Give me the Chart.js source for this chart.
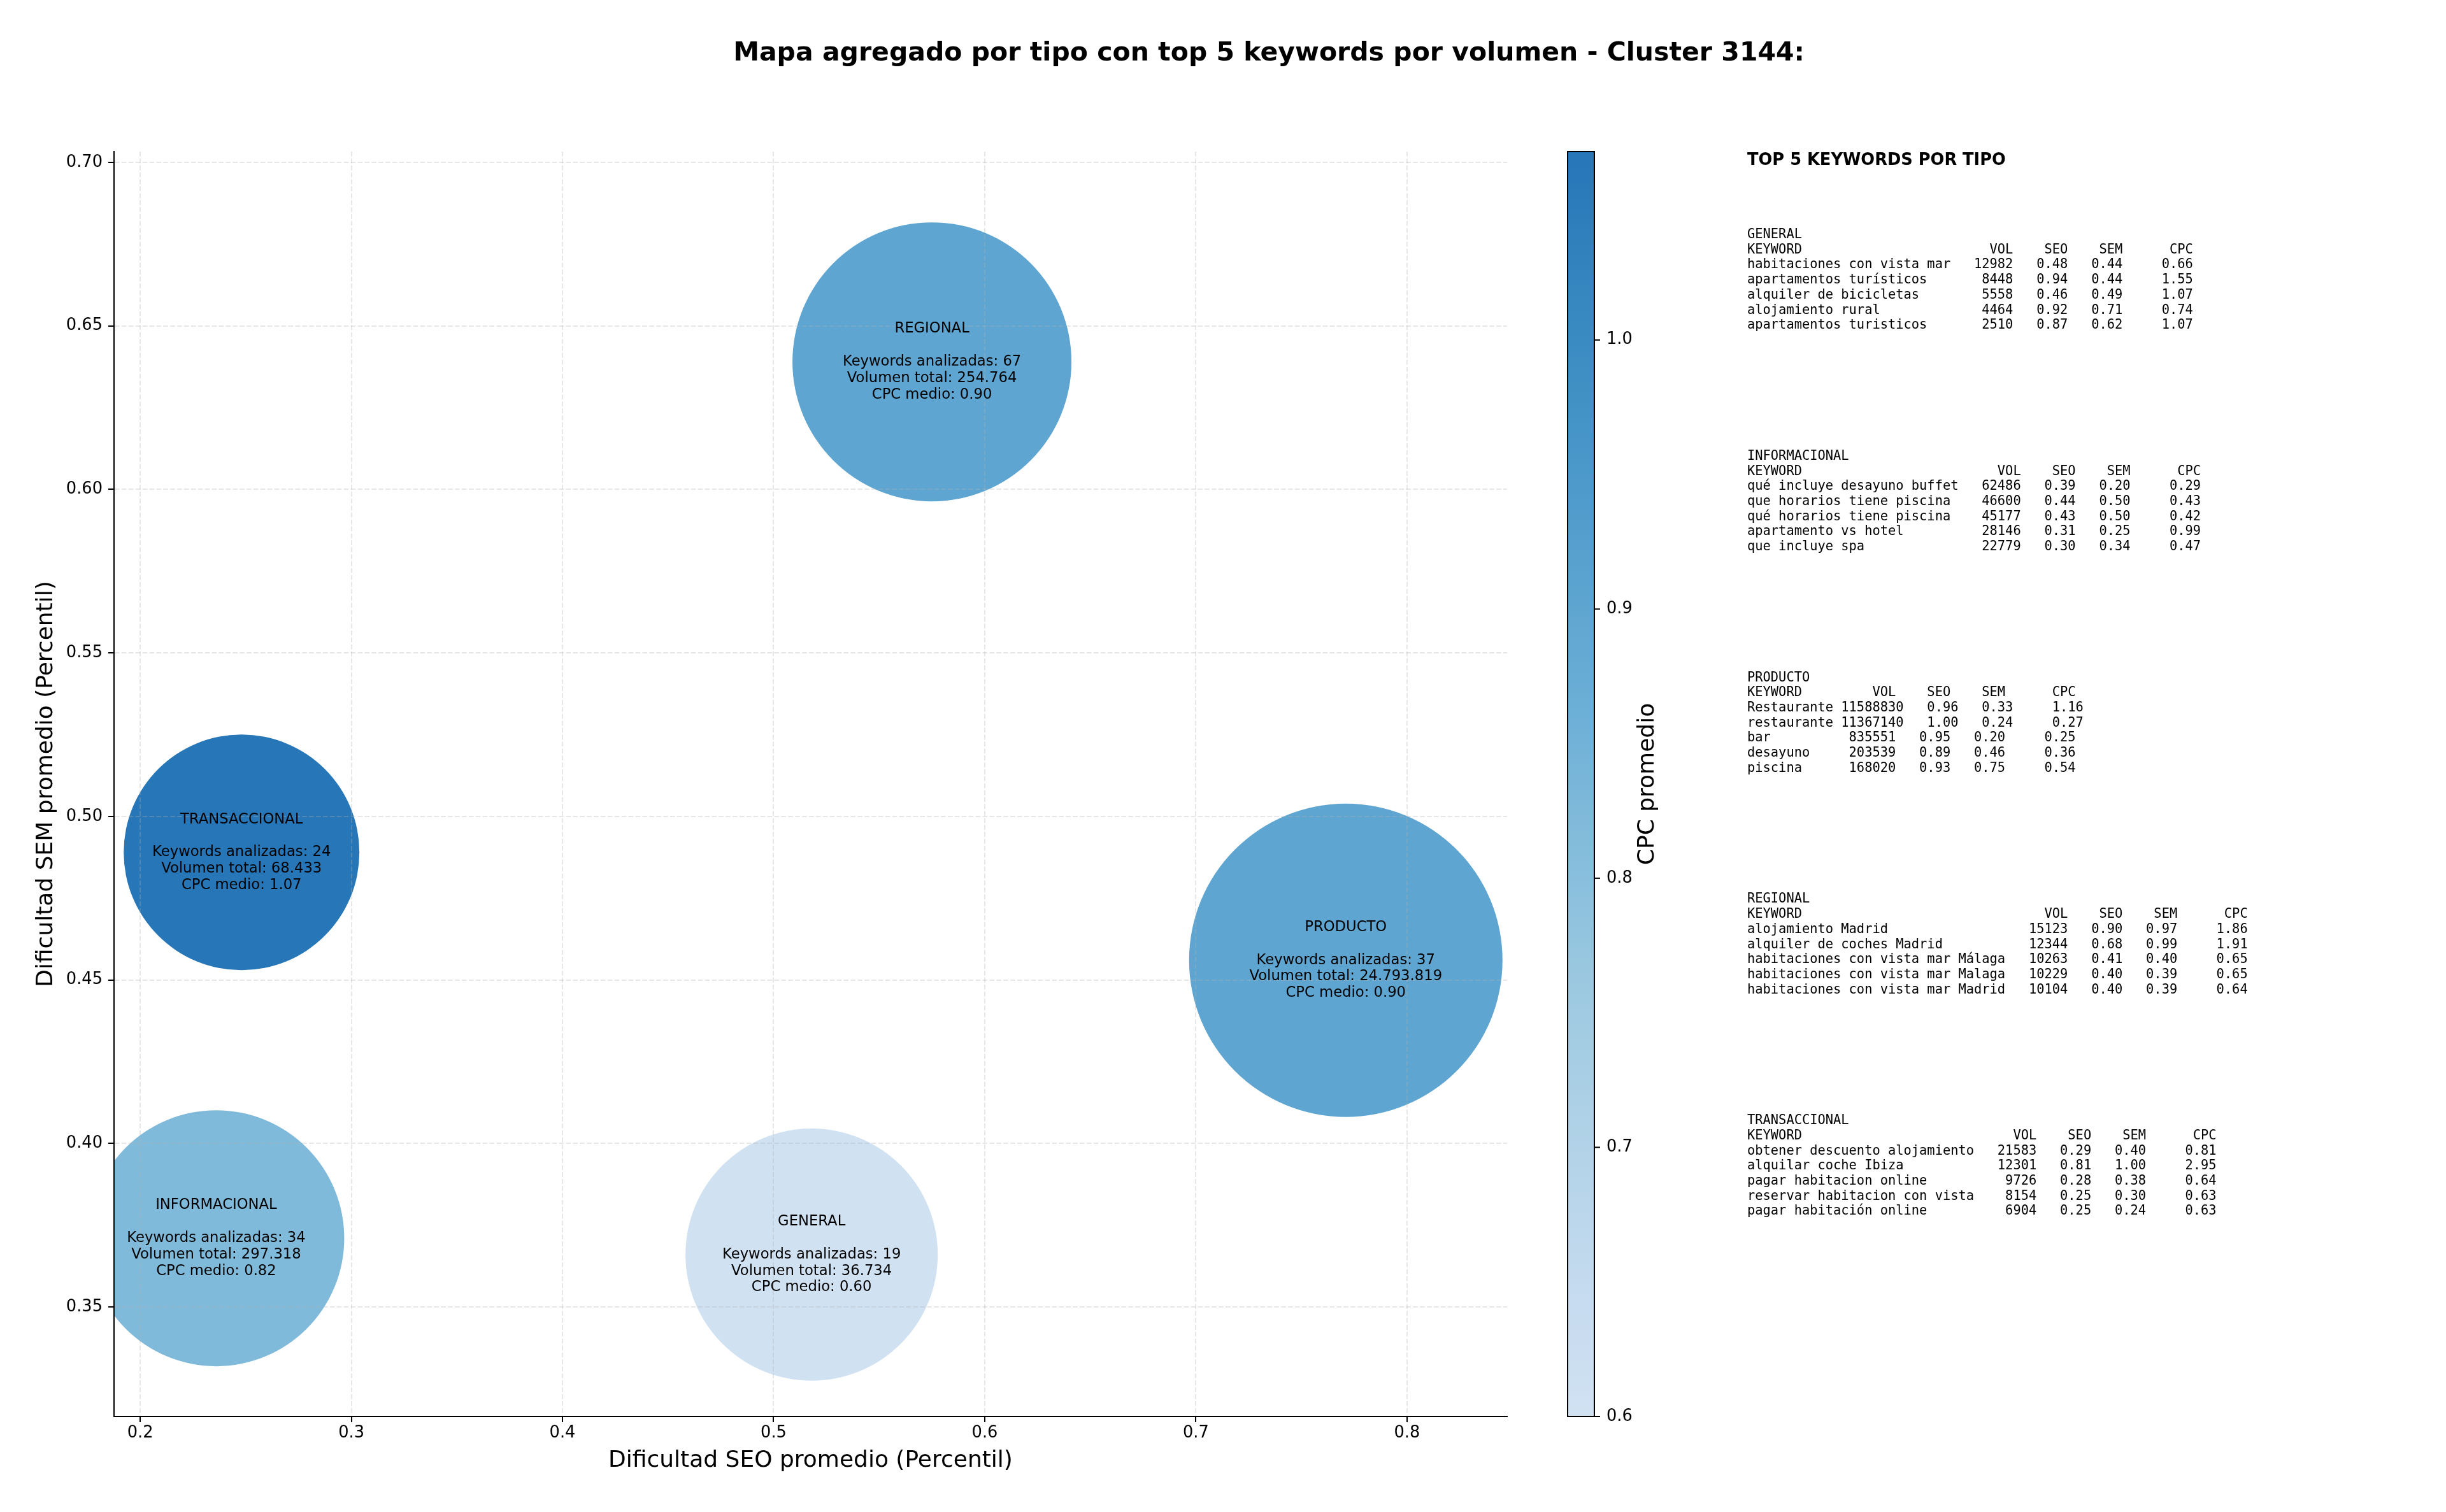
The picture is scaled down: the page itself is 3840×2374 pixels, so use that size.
<!DOCTYPE html>
<html>
<head>
<meta charset="utf-8">
<script src="https://cdn.jsdelivr.net/npm/chart.js@4.4.1/dist/chart.umd.min.js"></script>
<style>
  html, body { margin: 0; padding: 0; background: #fff; }
  #chart { display: block; }
</style>
</head>
<body>
<canvas id="chart" width="3840" height="2374"></canvas>
<script>
// aggregated values per keyword type
const types = ['GENERAL', 'INFORMACIONAL', 'PRODUCTO', 'REGIONAL', 'TRANSACCIONAL'];
const seoAvg = [0.518, 0.236, 0.771, 0.575, 0.248];
const semAvg = [0.366, 0.371, 0.456, 0.639, 0.489];
const cpcAvg = [0.60, 0.82, 0.90, 0.90, 1.07];
const keywordCount = [19, 34, 37, 67, 24];
const totalVolume = [36734, 297318, 24793819, 254764, 68433];
const bubbleSize = [198, 201, 246, 219, 185];

const xTicks = [0.2, 0.3, 0.4, 0.5, 0.6, 0.7, 0.8];
const yTicks = [0.35, 0.40, 0.45, 0.50, 0.55, 0.60, 0.65, 0.70];
const cbarTicks = [0.6, 0.7, 0.8, 0.9, 1.0];

// top 5 keywords: keyword, volume, seo, sem, cpc
const topGeneral = [
  ['habitaciones con vista mar', 12982, 0.48, 0.44, 0.66],
  ['apartamentos turísticos', 8448, 0.94, 0.44, 1.55],
  ['alquiler de bicicletas', 5558, 0.46, 0.49, 1.07],
  ['alojamiento rural', 4464, 0.92, 0.71, 0.74],
  ['apartamentos turisticos', 2510, 0.87, 0.62, 1.07]
];
const topInformacional = [
  ['qué incluye desayuno buffet', 62486, 0.39, 0.20, 0.29],
  ['que horarios tiene piscina', 46600, 0.44, 0.50, 0.43],
  ['qué horarios tiene piscina', 45177, 0.43, 0.50, 0.42],
  ['apartamento vs hotel', 28146, 0.31, 0.25, 0.99],
  ['que incluye spa', 22779, 0.30, 0.34, 0.47]
];
const topProducto = [
  ['Restaurante', 11588830, 0.96, 0.33, 1.16],
  ['restaurante', 11367140, 1.00, 0.24, 0.27],
  ['bar', 835551, 0.95, 0.20, 0.25],
  ['desayuno', 203539, 0.89, 0.46, 0.36],
  ['piscina', 168020, 0.93, 0.75, 0.54]
];
const topRegional = [
  ['alojamiento Madrid', 15123, 0.90, 0.97, 1.86],
  ['alquiler de coches Madrid', 12344, 0.68, 0.99, 1.91],
  ['habitaciones con vista mar Málaga', 10263, 0.41, 0.40, 0.65],
  ['habitaciones con vista mar Malaga', 10229, 0.40, 0.39, 0.65],
  ['habitaciones con vista mar Madrid', 10104, 0.40, 0.39, 0.64]
];
const topTransaccional = [
  ['obtener descuento alojamiento', 21583, 0.29, 0.40, 0.81],
  ['alquilar coche Ibiza', 12301, 0.81, 1.00, 2.95],
  ['pagar habitacion online', 9726, 0.28, 0.38, 0.64],
  ['reservar habitacion con vista', 8154, 0.25, 0.30, 0.63],
  ['pagar habitación online', 6904, 0.25, 0.24, 0.63]
];
const tableBlocks = [
  ['GENERAL', topGeneral],
  ['INFORMACIONAL', topInformacional],
  ['PRODUCTO', topProducto],
  ['REGIONAL', topRegional],
  ['TRANSACCIONAL', topTransaccional]
];

// matplotlib "Blues", truncated
const bluesStops = [
  [247, 251, 255], [222, 235, 247], [198, 219, 239], [158, 202, 225], [107, 174, 214],
  [66, 146, 198], [33, 113, 181], [8, 81, 156], [8, 48, 107]
];
function blues(t) {
  const p = Math.max(0, Math.min(1, t)) * 8;
  const i = Math.min(7, Math.floor(p));
  const f = p - i;
  const a = bluesStops[i], b = bluesStops[i + 1];
  const c = a.map((v, k) => Math.round(v + (b[k] - v) * f));
  return `rgb(${c[0]},${c[1]},${c[2]})`;
}
const cpcMin = Math.min(...cpcAvg);
const cpcMax = Math.max(...cpcAvg);
function cpcColor(v) {
  const n = (v - cpcMin) / (cpcMax - cpcMin);
  return blues(0.2 + n * 0.53);
}

function fmtThousands(v) {
  return String(v).replace(/\B(?=(\d{3})+(?!\d))/g, '.');
}

function tableLines(name, rows) {
  const w = Math.max(...rows.map(r => r[0].length));
  const lines = [name];
  lines.push('KEYWORD'.padEnd(w) + ' ' + 'VOL'.padStart(7) + 'SEO'.padStart(7) + 'SEM'.padStart(7) + 'CPC'.padStart(9));
  rows.forEach(r => {
    lines.push(r[0].padEnd(w) + ' ' + String(r[1]).padStart(7) + r[2].toFixed(2).padStart(7) +
      r[3].toFixed(2).padStart(7) + r[4].toFixed(2).padStart(9));
  });
  return lines;
}

const FONT = '"DejaVu Sans", sans-serif';
const MONO = '"DejaVu Sans Mono", monospace';

const extras = {
  id: 'extras',
  beforeDraw(chart) {
    const ctx = chart.ctx;
    ctx.save();
    ctx.fillStyle = '#fff';
    ctx.fillRect(0, 0, chart.width, chart.height);
    ctx.restore();
  },
  afterDraw(chart) {
    const ctx = chart.ctx;
    const {x, y} = chart.scales;
    const area = chart.chartArea;
    ctx.save();

    // figure title
    ctx.fillStyle = '#000';
    ctx.textAlign = 'center';
    ctx.textBaseline = 'middle';
    ctx.font = `bold 41px ${FONT}`;
    ctx.fillText('Mapa agregado por tipo con top 5 keywords por volumen - Cluster 3144:', 1992, 84);

    // bubble labels
    ctx.font = `22.7px ${FONT}`;
    types.forEach((t, i) => {
      const px = x.getPixelForValue(seoAvg[i]);
      const py = y.getPixelForValue(semAvg[i]);
      const lines = [t, '', `Keywords analizadas: ${keywordCount[i]}`,
        `Volumen total: ${fmtThousands(totalVolume[i])}`, `CPC medio: ${cpcAvg[i].toFixed(2)}`];
      lines.forEach((l, k) => ctx.fillText(l, px, py + (k - 2) * 25.8));
    });

    // colorbar
    const cbL = 2461, cbR = 2503, cbT = area.top, cbB = area.bottom;
    const grad = ctx.createLinearGradient(0, cbB, 0, cbT);
    for (let s = 0; s <= 40; s++) {
      grad.addColorStop(s / 40, cpcColor(cpcMin + (cpcMax - cpcMin) * s / 40));
    }
    ctx.fillStyle = grad;
    ctx.fillRect(cbL, cbT, cbR - cbL, cbB - cbT);
    ctx.strokeStyle = '#000';
    ctx.lineWidth = 2;
    ctx.strokeRect(cbL, cbT, cbR - cbL, cbB - cbT);
    ctx.fillStyle = '#000';
    ctx.textAlign = 'left';
    ctx.font = `25.7px ${FONT}`;
    cbarTicks.forEach(v => {
      const ty = cbB - (v - cpcMin) / (cpcMax - cpcMin) * (cbB - cbT);
      ctx.beginPath();
      ctx.moveTo(cbR, ty);
      ctx.lineTo(cbR + 9, ty);
      ctx.stroke();
      ctx.fillText(v.toFixed(1), cbR + 19, ty);
    });
    ctx.save();
    ctx.translate(2587, (cbT + cbB) / 2);
    ctx.rotate(-Math.PI / 2);
    ctx.textAlign = 'center';
    ctx.font = `36px ${FONT}`;
    ctx.fillText('CPC promedio', 0, 0);
    ctx.restore();

    // keyword tables
    ctx.textAlign = 'left';
    ctx.textBaseline = 'alphabetic';
    ctx.font = `bold 25.7px ${FONT}`;
    ctx.fillText('TOP 5 KEYWORDS POR TIPO', 2743, 259);
    ctx.font = `20.4px ${MONO}`;
    tableBlocks.forEach(([name, rows], b) => {
      tableLines(name, rows).forEach((l, k) => {
        ctx.fillText(l, 2743, 374 + b * 347.8 + k * 23.7);
      });
    });

    ctx.restore();
  }
};

Chart.defaults.font.family = FONT;
Chart.defaults.color = '#000';

const axisCommon = {
  type: 'linear',
  grid: {
    color: 'rgba(176,176,176,0.3)',
    lineWidth: 2,
    tickLength: 9,
    tickColor: '#000',
    tickWidth: 2,
    z: 1
  },
  border: { display: true, color: '#000', width: 2, dash: [7.6, 3.3], z: 2 }
};

new Chart(document.getElementById('chart'), {
  type: 'bubble',
  data: {
    datasets: [{
      data: types.map((t, i) => ({x: seoAvg[i], y: semAvg[i], r: bubbleSize[i]})),
      backgroundColor: cpcAvg.map(cpcColor),
      borderWidth: 0,
      clip: 0
    }]
  },
  options: {
    responsive: false,
    animation: false,
    events: [],
    layout: { autoPadding: false, padding: { left: 0, right: 1474, top: 238, bottom: 0 } },
    plugins: { legend: { display: false }, tooltip: { enabled: false } },
    scales: {
      x: {
        ...axisCommon,
        min: 0.1876,
        max: 0.8474,
        afterFit: s => { s.height = 150; },
        afterBuildTicks: s => { s.ticks = xTicks.map(v => ({value: v})); },
        ticks: { callback: v => v.toFixed(1), font: { size: 25.7 }, color: '#000', padding: 2 },
        title: {
          display: true, text: 'Dificultad SEO promedio (Percentil)',
          font: { size: 36 }, color: '#000', padding: { top: 0, bottom: 59 }
        }
      },
      y: {
        ...axisCommon,
        min: 0.3165,
        max: 0.7033,
        afterFit: s => { s.width = 179; },
        afterBuildTicks: s => { s.ticks = yTicks.map(v => ({value: v})); },
        ticks: { callback: v => v.toFixed(2), font: { size: 25.7 }, color: '#000', padding: 9 },
        title: {
          display: true, text: 'Dificultad SEM promedio (Percentil)',
          font: { size: 36 }, color: '#000', padding: { top: 51, bottom: 0 }
        }
      }
    }
  },
  plugins: [extras]
});
</script>
</body>
</html>
